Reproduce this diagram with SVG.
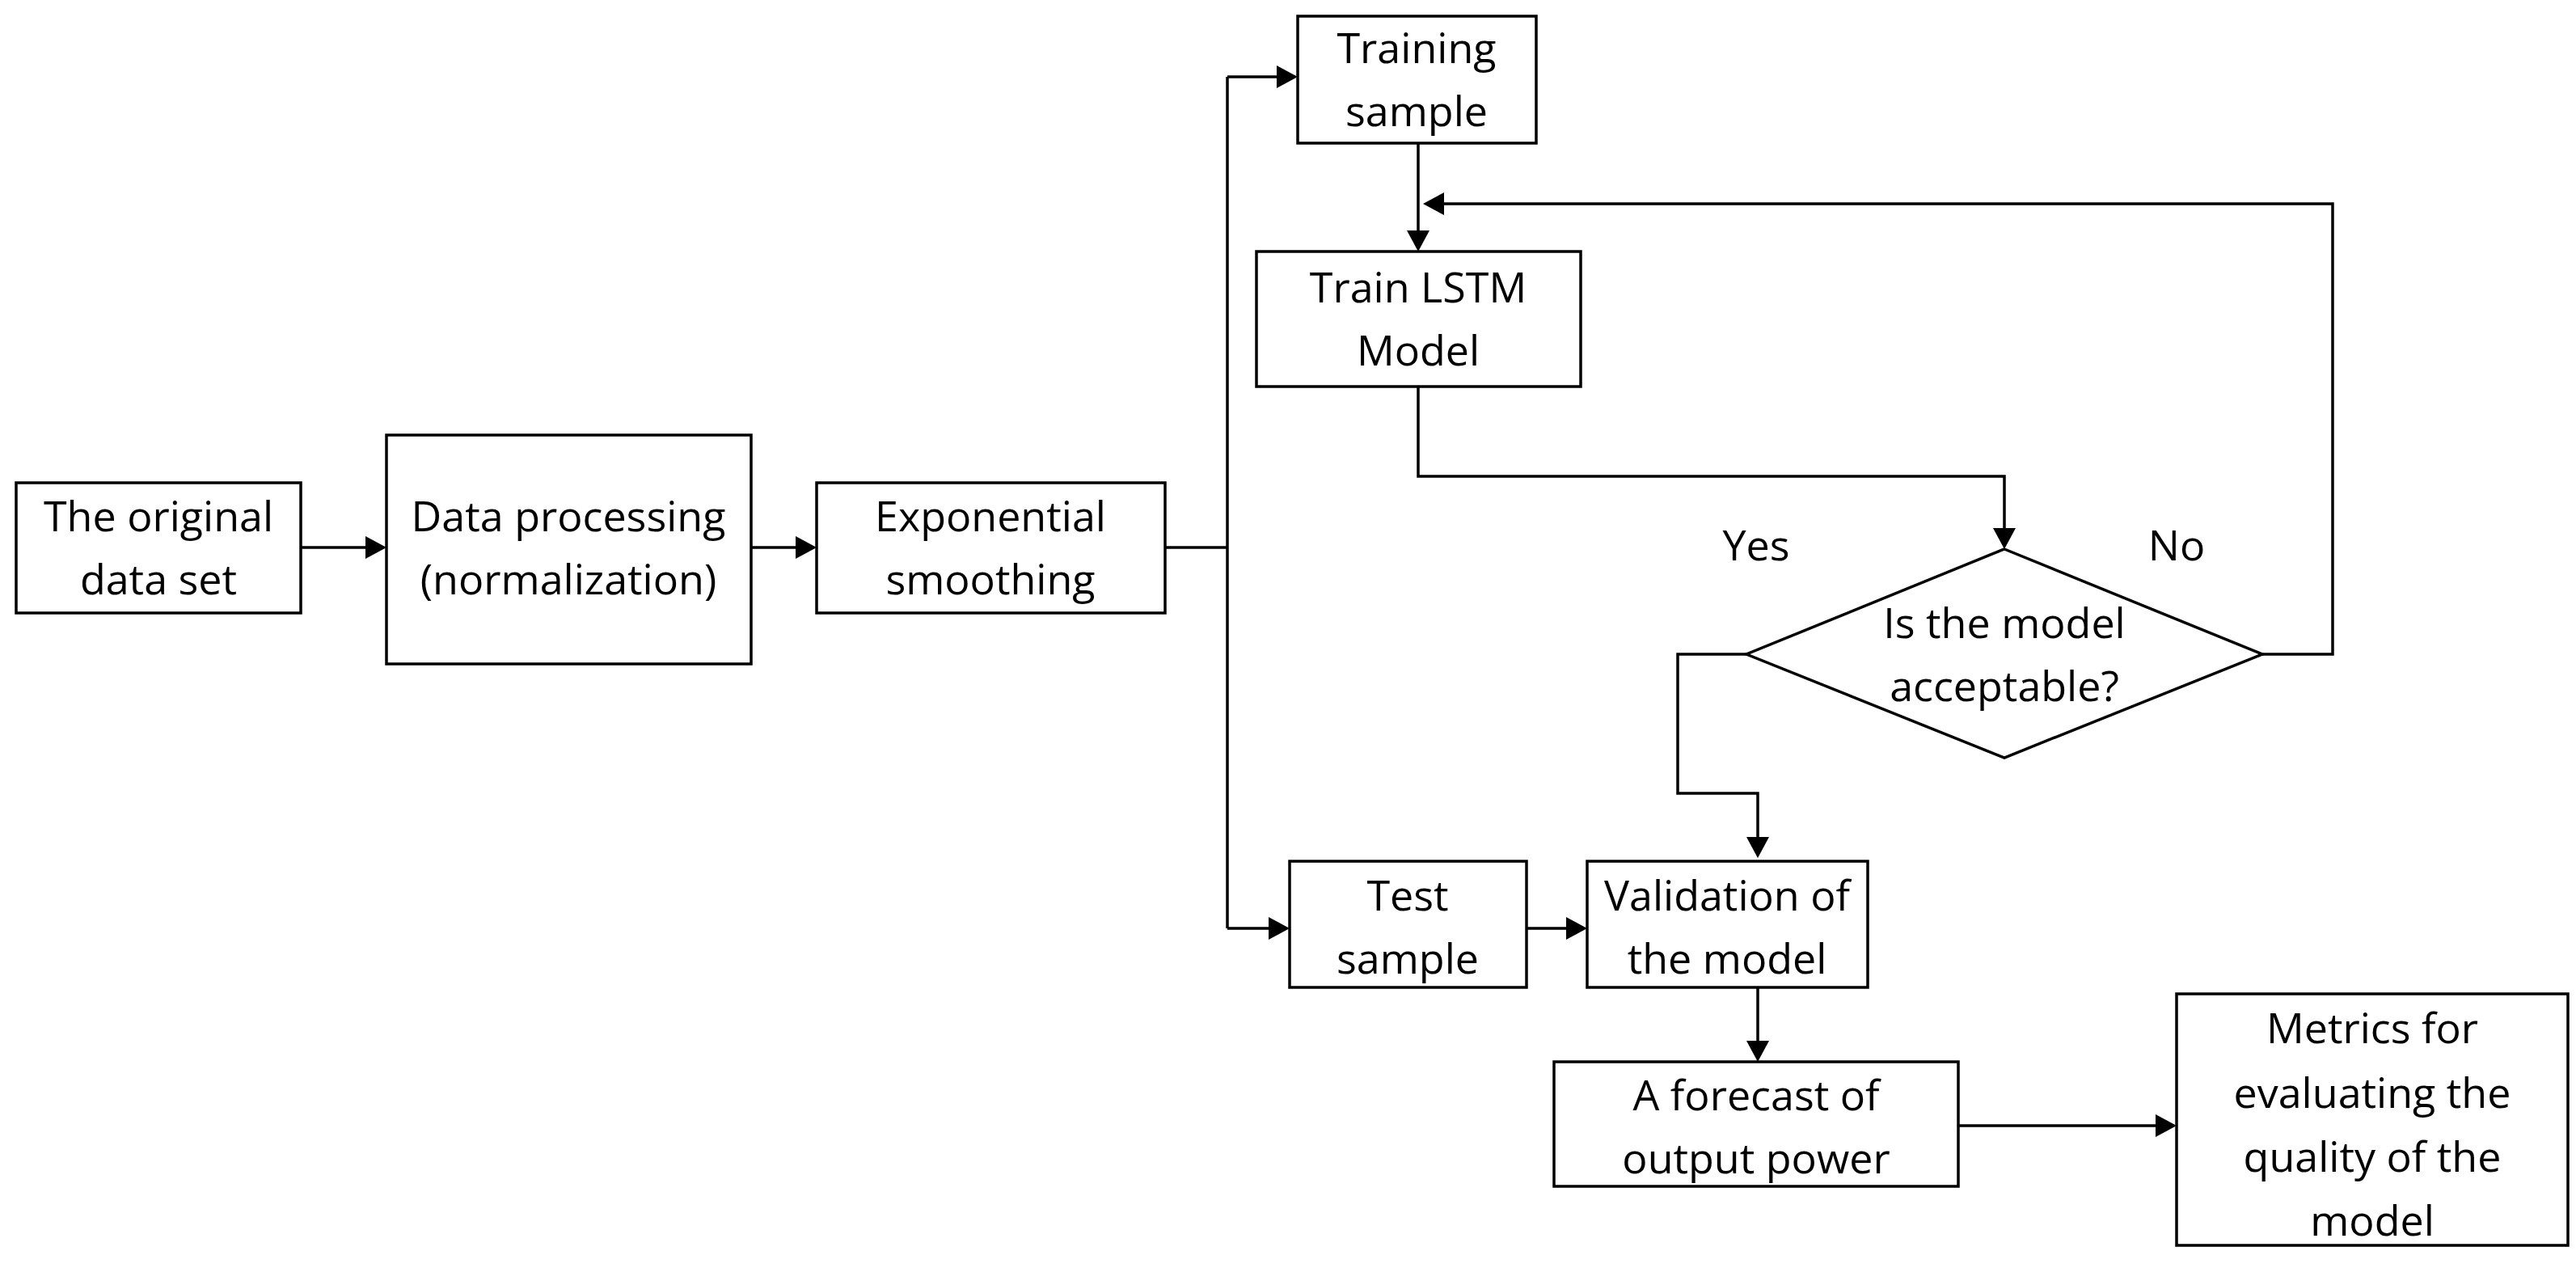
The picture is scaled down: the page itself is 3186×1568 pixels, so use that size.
<svg xmlns="http://www.w3.org/2000/svg" width="3186" height="1568" viewBox="0 0 3186 1568">
<defs>
<style>
.box{fill:#fff;stroke:#000;stroke-width:3.5}
.t{font-family:"Open Sans","Liberation Sans",sans-serif;font-size:52px;text-anchor:middle;fill:#000}
.c{fill:none;stroke:#000;stroke-width:3.5}
</style>
<marker id="ah" markerWidth="10" markerHeight="10" refX="9" refY="5" orient="auto" markerUnits="userSpaceOnUse" viewBox="0 0 10 10">
<path d="M0,0 L10,5 L0,10 Z" fill="#000"/>
</marker>
</defs>
<rect width="3186" height="1568" fill="#fff"/>
<g id="connectors">
<path class="c" d="M372,677 H472" marker-end="url(#ah)" style="marker-end:none"/>
<path d="M452,663 L478,677 L452,691 Z"/>
<path class="c" d="M929,677 H985"/>
<path d="M984,663 L1010,677 L984,691 Z"/>
<path class="c" d="M1441,677 H1518"/>
<path class="c" d="M1518,95 V1148"/>
<path class="c" d="M1518,95 H1580"/>
<path d="M1579,81 L1605,95 L1579,109 Z"/>
<path class="c" d="M1518,1148 H1570"/>
<path d="M1569,1134 L1595,1148 L1569,1162 Z"/>
<path class="c" d="M1754,177 V286"/>
<path d="M1740,285 L1754,311 L1768,285 Z"/>
<path class="c" d="M2798,809 H2885 V252 H1785"/>
<path d="M1786,238 L1760,252 L1786,266 Z"/>
<path class="c" d="M1754,478 V589 H2479 V654"/>
<path d="M2465,653 L2479,679 L2493,653 Z"/>
<path class="c" d="M2160,809 H2075 V981 H2174 V1036"/>
<path d="M2160,1035 L2174,1061 L2188,1035 Z"/>
<path class="c" d="M1888,1148 H1938"/>
<path d="M1937,1134 L1963,1148 L1937,1162 Z"/>
<path class="c" d="M2174,1221 V1288"/>
<path d="M2160,1287 L2174,1313 L2188,1287 Z"/>
<path class="c" d="M2422,1392 H2667"/>
<path d="M2666,1378 L2692,1392 L2666,1406 Z"/>
</g>
<g id="n1"><rect class="box" x="20" y="597" width="352" height="161"/><text class="t" x="196" y="657">The original</text><text class="t" x="196" y="735">data set</text></g>
<g id="n2"><rect class="box" x="478" y="538" width="451" height="283"/><text class="t" x="703" y="657">Data processing</text><text class="t" x="703" y="735">(normalization)</text></g>
<g id="n3"><rect class="box" x="1010" y="597" width="431" height="161"/><text class="t" x="1225" y="657">Exponential</text><text class="t" x="1225" y="735">smoothing</text></g>
<g id="n4"><rect class="box" x="1605" y="20" width="295" height="157"/><text class="t" x="1752" y="78">Training</text><text class="t" x="1752" y="156">sample</text></g>
<g id="n5"><rect class="box" x="1554" y="311" width="401" height="167"/><text class="t" x="1754" y="374">Train LSTM</text><text class="t" x="1754" y="452">Model</text></g>
<g id="n6"><path class="box" d="M2479,679 L2798,809 L2479,937 L2160,809 Z"/><text class="t" x="2479" y="789">Is the model</text><text class="t" x="2479" y="867">acceptable?</text></g>
<g id="labels"><text class="t" x="2172" y="693">Yes</text><text class="t" x="2692" y="693">No</text></g>
<g id="n7"><rect class="box" x="1595" y="1065" width="293" height="156"/><text class="t" x="1741" y="1126">Test</text><text class="t" x="1741" y="1204">sample</text></g>
<g id="n8"><rect class="box" x="1963" y="1065" width="347" height="156"/><text class="t" x="2136" y="1126">Validation of</text><text class="t" x="2136" y="1204">the model</text></g>
<g id="n9"><rect class="box" x="1922" y="1313" width="500" height="154"/><text class="t" x="2172" y="1373">A forecast of</text><text class="t" x="2172" y="1451">output power</text></g>
<g id="n10"><rect class="box" x="2692" y="1229" width="484" height="311"/><text class="t" x="2934" y="1290">Metrics for</text><text class="t" x="2934" y="1370">evaluating the</text><text class="t" x="2934" y="1449">quality of the</text><text class="t" x="2934" y="1528">model</text></g>
</svg>
